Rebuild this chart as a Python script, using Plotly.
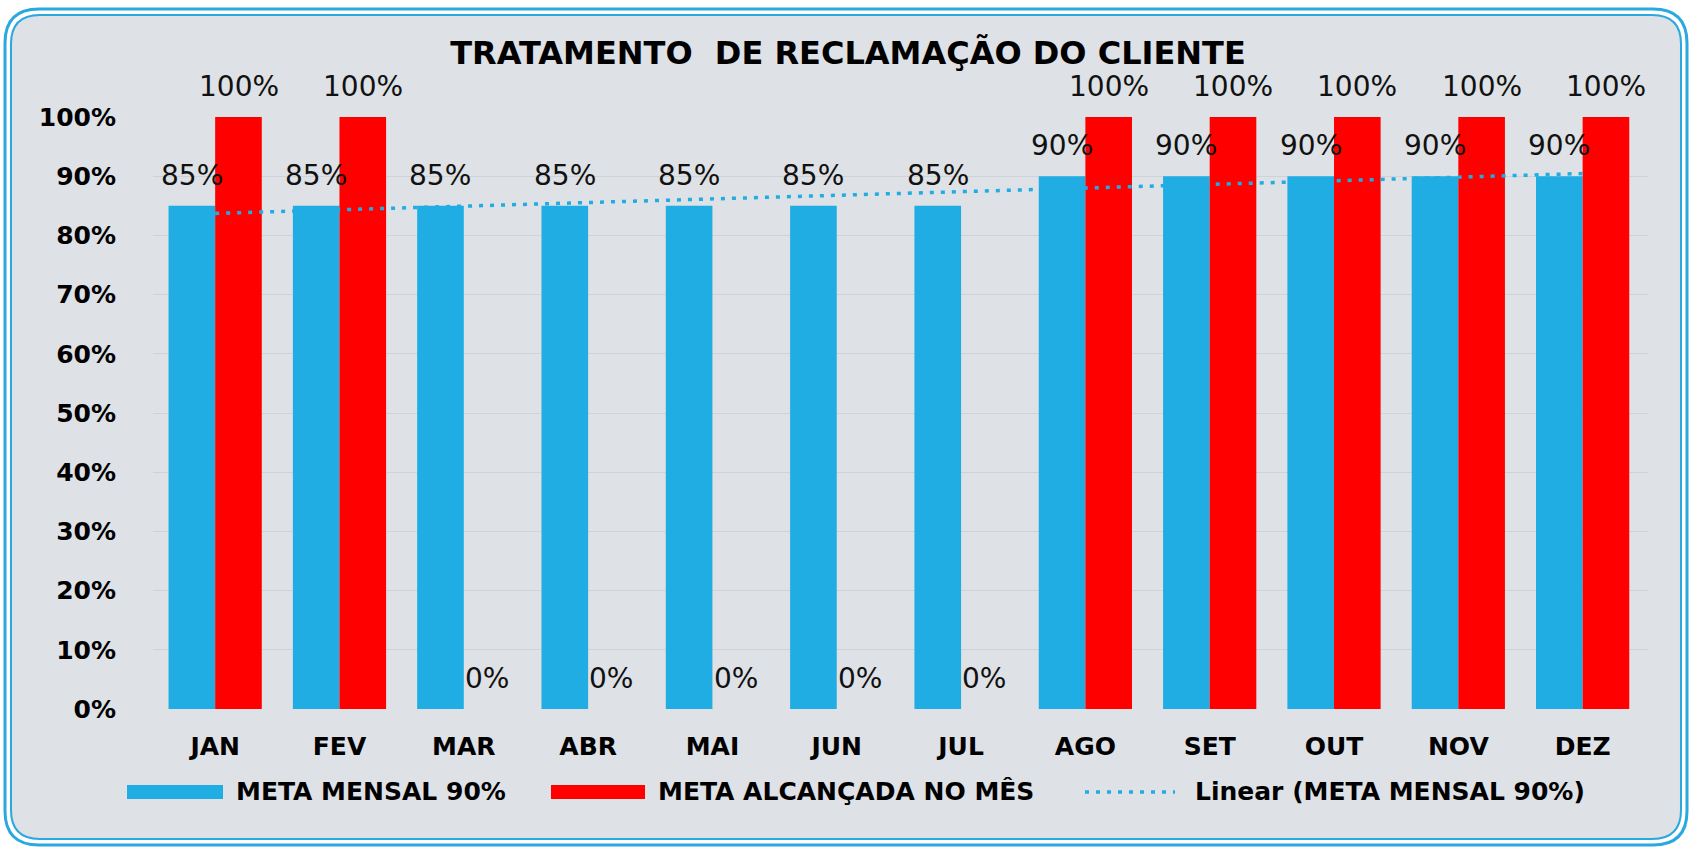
import numpy as np
import plotly.graph_objects as go

# ---------------- data ----------------
months = ["JAN", "FEV", "MAR", "ABR", "MAI", "JUN", "JUL", "AGO", "SET", "OUT", "NOV", "DEZ"]
meta_mensal = [0.85, 0.85, 0.85, 0.85, 0.85, 0.85, 0.85, 0.90, 0.90, 0.90, 0.90, 0.90]
meta_alcancada = [1.00, 1.00, 0.00, 0.00, 0.00, 0.00, 0.00, 1.00, 1.00, 1.00, 1.00, 1.00]
y_tick_values = [0.0, 0.1, 0.2, 0.3, 0.4, 0.5, 0.6, 0.7, 0.8, 0.9, 1.0]
y_tick_labels = ["0%", "10%", "20%", "30%", "40%", "50%", "60%", "70%", "80%", "90%", "100%"]
series_names = ["META MENSAL 90%", "META ALCANÇADA NO MÊS", "Linear (META MENSAL 90%)"]
title_text = "TRATAMENTO\u00a0 DE RECLAMAÇÃO DO CLIENTE"

# linear trendline (as Excel's "Linear" trendline) fitted on the monthly target series
xi = np.arange(1, len(months) + 1)
coef = np.polyfit(xi, meta_mensal, 1)
trend = np.polyval(coef, xi)

# ---------------- style ----------------
BLUE = "#1FADE3"
RED = "#FF0000"
BG = "#DEE1E5"
BORDER = "#2AA9E0"
GRID = "#CFD2D6"
W, H = 1692, 849
ML, MR, MT, MB = 153, 44, 117, 140
PW, PH = W - ML - MR, H - MT - MB
TICK_FONT = dict(family="DejaVu Sans", size=25, color="#000000", weight="bold")
LBL_FONT = dict(family="DejaVu Sans", size=28, color="#111111")
LEG_FONT = dict(family="DejaVu Sans", size=25, color="#000000", weight="bold")


def px_x(px):
    return (px - ML) / PW


def px_y(py):
    return (H - MB - py) / PH


def rrect_path(x0, y0, x1, y1, r):
    pts = [
        ("M", [(x0 + r, y0)]), ("L", [(x1 - r, y0)]), ("Q", [(x1, y0), (x1, y0 + r)]),
        ("L", [(x1, y1 - r)]), ("Q", [(x1, y1), (x1 - r, y1)]), ("L", [(x0 + r, y1)]),
        ("Q", [(x0, y1), (x0, y1 - r)]), ("L", [(x0, y0 + r)]), ("Q", [(x0, y0), (x0 + r, y0)]),
    ]
    s = ""
    for cmd, ps in pts:
        s += cmd + " " + " ".join(f"{px_x(a):.5f},{px_y(b):.5f}" for a, b in ps) + " "
    return s + "Z"


fig = go.Figure()
fig.add_trace(go.Bar(x=months, y=meta_mensal, name=series_names[0], marker=dict(color=BLUE, line=dict(width=0))))
fig.add_trace(go.Bar(x=months, y=meta_alcancada, name=series_names[1], marker=dict(color=RED, line=dict(width=0))))
fig.add_trace(go.Scatter(x=months, y=trend, mode="lines", name=series_names[2],
                         line=dict(color=BLUE, width=3.5, dash="4px,7px")))

bargap = 0.25
bar_w_px = PW / len(months) * (1 - bargap) / 2

annotations = []
for m, v1, v2 in zip(months, meta_mensal, meta_alcancada):
    for v, sh in ((v1, -bar_w_px / 2), (v2, bar_w_px / 2)):
        annotations.append(dict(x=m, y=v, xref="x", yref="y", text=f"{v:.0%}", showarrow=False,
                                xshift=sh, yshift=12, yanchor="bottom", font=LBL_FONT))

# custom legend (wide swatches as in the reference)
leg_y = 792
shapes = []
# background card with double blue border
shapes.append(dict(type="path", xref="paper", yref="paper", layer="below",
                   path=rrect_path(10, 14, 1682, 840, 30), fillcolor=BG, line=dict(width=0)))
shapes.append(dict(type="path", xref="paper", yref="paper", layer="above",
                   path=rrect_path(5, 9, 1687, 845, 34), fillcolor="rgba(0,0,0,0)",
                   line=dict(color=BORDER, width=3)))
shapes.append(dict(type="path", xref="paper", yref="paper", layer="above",
                   path=rrect_path(11, 15, 1681, 839, 29), fillcolor="rgba(0,0,0,0)",
                   line=dict(color=BORDER, width=2)))

legend_items = [
    (series_names[0], "bar", BLUE, 127, 223, 234),
    (series_names[1], "bar", RED, 551, 645, 656),
    (series_names[2], "line", BLUE, 1085, 1175, 1193),
]
for name, kind, col, sx0, sx1, tx in legend_items:
    if kind == "bar":
        shapes.append(dict(type="rect", xref="paper", yref="paper", x0=px_x(sx0), x1=px_x(sx1),
                           y0=px_y(leg_y + 7), y1=px_y(leg_y - 7), fillcolor=col, line=dict(width=0)))
    else:
        shapes.append(dict(type="line", xref="paper", yref="paper", x0=px_x(sx0), x1=px_x(sx1),
                           y0=px_y(leg_y), y1=px_y(leg_y), line=dict(color=col, width=3.5, dash="4px,7px")))
    annotations.append(dict(x=px_x(tx), y=px_y(leg_y - 1), xref="paper", yref="paper", text=name,
                            showarrow=False, xanchor="left", yanchor="middle", font=LEG_FONT))

fig.update_layout(
    width=W, height=H,
    margin=dict(l=ML, r=MR, t=MT, b=MB, pad=0),
    paper_bgcolor="#FFFFFF",
    plot_bgcolor="rgba(0,0,0,0)",
    barmode="group", bargap=bargap, bargroupgap=0,
    showlegend=False,
    title=dict(text=title_text, x=848 / W, xref="container", xanchor="center",
               y=1 - 53 / H, yref="container", yanchor="middle",
               font=dict(family="DejaVu Sans", size=32, color="#000000", weight="bold")),
    xaxis=dict(showgrid=False, showline=False, ticks="", tickfont=TICK_FONT, ticklabelstandoff=20),
    yaxis=dict(range=[0, 1], tickvals=y_tick_values, ticktext=y_tick_labels, showgrid=True,
               gridcolor=GRID, gridwidth=1, zeroline=False, showline=False, ticks="",
               tickfont=TICK_FONT, ticklabelstandoff=36),
    annotations=annotations,
    shapes=shapes,
)

fig.write_html("out.html", config={"displayModeBar": False},
               post_script="document.body.style.margin='0px';document.body.style.overflow='hidden';")
